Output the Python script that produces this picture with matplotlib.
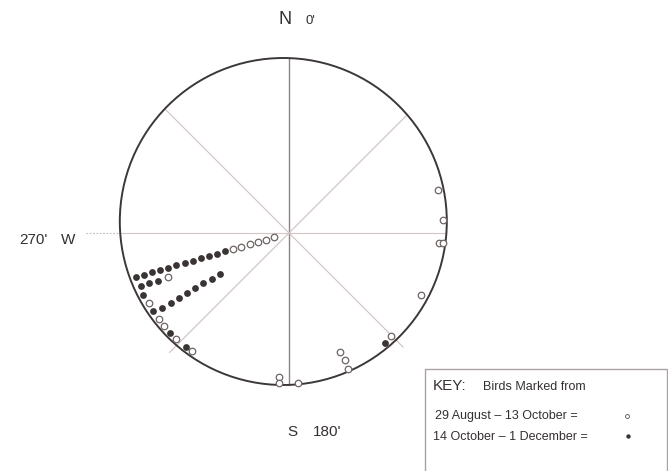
import numpy as np
import matplotlib.pyplot as plt
from matplotlib.patches import Circle, Rectangle

plt.rcParams['font.family'] = ['Liberation Sans', 'DejaVu Sans']

# bearings (deg clockwise from N) and distance from centre (fraction of radius)
early_bearing = [254, 254, 254, 254, 254, 254,
                 249.8,
                 243.5, 236.5, 233.4, 226.8, 219.4,
                 183.8, 183.7, 176.7, 156.75, 156.2, 156.4, 135.4,
                 73.9, 85.0, 93.8, 93.7, 115.3]
early_dist = [0.353, 0.302, 0.250, 0.199, 0.147, 0.096,
              0.784,
              0.952, 0.948, 0.950, 0.945, 0.931,
              0.882, 0.915, 0.914, 0.788, 0.846, 0.903, 0.883,
              0.947, 0.944, 0.914, 0.943, 0.888]

late_bearing = [254, 254, 254, 254, 254, 254, 254, 254, 254, 254, 254, 254,
                250.4, 250.2, 249.9,
                239.5, 239.5, 239.5, 239.5, 239.5, 239.5, 239.5, 239.5,
                246.9, 240.2, 229.9, 222.2,
                138.8]
late_dist = [0.971, 0.920, 0.868, 0.817, 0.765, 0.714, 0.662, 0.611, 0.559, 0.508, 0.456, 0.405,
             0.960, 0.905, 0.848,
             0.899, 0.837, 0.779, 0.721, 0.665, 0.606, 0.548, 0.489,
             0.965, 0.953, 0.949, 0.936,
             0.889]

key_labels = ['29 August \u2013 13 October =', '14 October \u2013 1 December =']

# layout (pixel frame, y down)
CX, CY = 289, 233          # crosshair centre
OX, OY = 283.3, 221.5      # circle centre (scan is a little off)
R = 163.5
RD = 164                   # radius used for the distances

fig = plt.figure(figsize=(6.68, 4.71), dpi=100)
ax = fig.add_axes([0, 0, 1, 1])
ax.set_xlim(0, 668)
ax.set_ylim(471, 0)
ax.set_aspect('equal')
ax.axis('off')

def edge(b, extra=0):
    # distance from crosshair along bearing b to the circle
    dx, dy = np.sin(np.radians(b)), -np.cos(np.radians(b))
    px, py = CX - OX, CY - OY
    bb = px*dx + py*dy
    t = -bb + np.sqrt(bb**2 - (px**2 + py**2 - R**2))
    return CX + (t+extra)*dx, CY + (t+extra)*dy

# guide lines
x0, y0 = edge(0)
x1, y1 = edge(180)
ax.plot([x0, x1], [y0, y1], color='#8c8484', lw=1.0, zorder=1)
xl, yl = edge(270)
xr, yr = edge(90)
ax.plot([xl, xr], [yl, yr], color='#d2c6c6', lw=0.8, zorder=1)
ax.plot([86, xl], [yl, yl], color='#c4b8b8', lw=0.8, ls=(0, (1.5, 1.5)), zorder=1)
for b, ext in [(45, 0), (135, 10), (225, 10), (315, 0)]:
    xe, ye = edge(b, ext)
    ax.plot([CX, xe], [CY, ye], color='#cfc2c2', lw=0.8, zorder=1)

ax.add_patch(Circle((OX, OY), R, fill=False, ec='#3d3838', lw=1.4, zorder=2))

def to_xy(bearing, dist):
    b = np.radians(np.array(bearing))
    d = np.array(dist) * RD
    return CX + d*np.sin(b), CY - d*np.cos(b)

ex, ey = to_xy(early_bearing, early_dist)
lx, ly = to_xy(late_bearing, late_dist)
ax.scatter(ex, ey, s=22, facecolor='white', edgecolor='#6e6464', lw=0.9, zorder=3)
ax.scatter(lx, ly, s=24, color='#3b3434', lw=0, zorder=3)

tc = '#353030'
ax.text(285.5, 20, 'N', fontsize=13, color=tc, ha='center', va='center')
ax.text(305, 21.5, "0'", fontsize=9.5, color=tc, ha='left', va='center')
ax.text(48, 240, "270'", fontsize=11, color=tc, ha='right', va='center')
ax.text(68.5, 240, 'W', fontsize=11, color=tc, ha='center', va='center')
ax.text(292, 432, 'S', fontsize=11, color=tc, ha='center', va='center')
ax.text(313, 432, "180'", fontsize=11, color=tc, ha='left', va='center')

# key box
ax.add_patch(Rectangle((425, 369), 242, 120, fill=False, ec='#aaa3a3', lw=1.0, zorder=2))
ax.text(433, 386, 'KEY:', fontsize=11, color=tc, ha='left', va='center')
ax.text(483, 386.5, 'Birds Marked from', fontsize=9, color=tc, ha='left', va='center')
ax.text(435, 416.5, key_labels[0], fontsize=9, color=tc, ha='left', va='center')
ax.text(433, 437, key_labels[1], fontsize=9, color=tc, ha='left', va='center')
ax.scatter([627], [416], s=8, facecolor='white', edgecolor='#6e6464', lw=0.7, zorder=3)
ax.scatter([628], [436], s=10, color='#3b3434', lw=0, zorder=3)

fig.savefig('out.png', dpi=100)
